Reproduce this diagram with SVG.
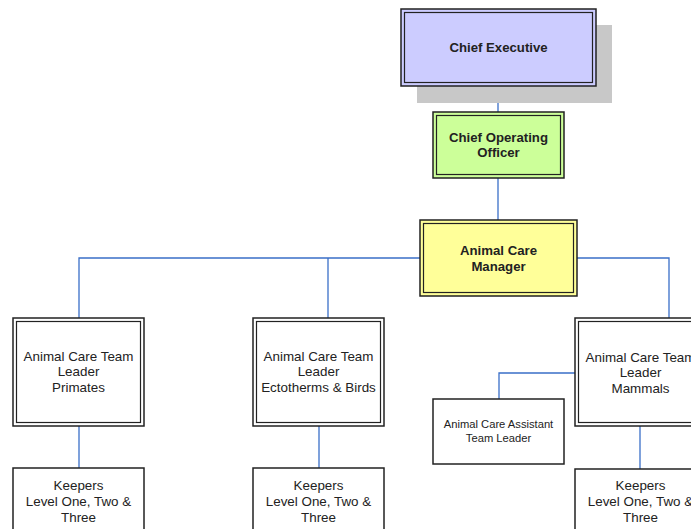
<svg xmlns="http://www.w3.org/2000/svg" width="691" height="529" viewBox="0 0 691 529">
<style>
.o{fill:none;stroke:#222;stroke-width:1.5}
.i{fill:none;stroke:#222;stroke-width:1.2}
.t{font-family:"Liberation Sans",Arial,sans-serif;font-size:13.4px;fill:#222;text-anchor:middle}
.b{font-weight:bold;font-size:13.2px}
.s{font-size:11.2px}
.c{fill:none;stroke:#3a6fc8;stroke-width:1.3}
</style>
<rect width="691" height="529" fill="#fff"/>
<g id="connectors">
<path class="c" d="M498 86V112"/>
<path class="c" d="M498 178V220"/>
<path class="c" d="M420 258H79V318"/>
<path class="c" d="M328 258V318"/>
<path class="c" d="M577 258H669V318"/>
<path class="c" d="M575 373H499V399"/>
<path class="c" d="M79 426V468"/>
<path class="c" d="M319 426V468"/>
<path class="c" d="M640 426V469"/>
</g>
<g id="chief-executive">
<rect x="417" y="25" width="195" height="78" fill="#c8c8c8"/>
<rect x="401" y="9" width="195" height="77" class="o" style="fill:#ccccff"/>
<rect x="404.5" y="12.5" width="188" height="70" class="i"/>
<text class="t b" x="498.5" y="51.5">Chief Executive</text>
</g>
<g id="chief-operating-officer">
<rect x="433" y="112" width="131" height="66" class="o" style="fill:#ccff99"/>
<rect x="436.5" y="115.5" width="124" height="59" class="i"/>
<text class="t b" x="498.5" y="141.5">Chief Operating</text>
<text class="t b" x="498.5" y="156.5">Officer</text>
</g>
<g id="animal-care-manager">
<rect x="420" y="220" width="157" height="76" class="o" style="fill:#ffff99"/>
<rect x="423.5" y="223.5" width="150" height="69" class="i"/>
<text class="t b" x="498.5" y="254.5">Animal Care</text>
<text class="t b" x="498.5" y="270.5">Manager</text>
</g>
<g id="team-leader-primates">
<rect x="13" y="318" width="131" height="108" class="o" style="fill:#fff"/>
<rect x="16.5" y="321.5" width="124" height="101" class="i"/>
<text class="t" x="78.5" y="360.5">Animal Care Team</text>
<text class="t" x="78.5" y="376">Leader</text>
<text class="t" x="78.5" y="391.5">Primates</text>
</g>
<g id="team-leader-ectotherms">
<rect x="253" y="318" width="131" height="108" class="o" style="fill:#fff"/>
<rect x="256.5" y="321.5" width="124" height="101" class="i"/>
<text class="t" x="318.5" y="360.5">Animal Care Team</text>
<text class="t" x="318.5" y="376">Leader</text>
<text class="t" x="318.5" y="391.5">Ectotherms &amp; Birds</text>
</g>
<g id="team-leader-mammals">
<rect x="575" y="318" width="131" height="108" class="o" style="fill:#fff"/>
<rect x="578.5" y="321.5" width="124" height="101" class="i"/>
<text class="t" x="640.5" y="361.5">Animal Care Team</text>
<text class="t" x="640.5" y="377">Leader</text>
<text class="t" x="640.5" y="392.5">Mammals</text>
</g>
<g id="assistant-team-leader">
<rect x="433" y="399" width="131" height="65" class="o" style="fill:#fff"/>
<text class="t s" x="498.5" y="428">Animal Care Assistant</text>
<text class="t s" x="498.5" y="442">Team Leader</text>
</g>
<g id="keepers-primates">
<rect x="13" y="468" width="131" height="70" class="o" style="fill:#fff"/>
<text class="t" x="78.5" y="489.5">Keepers</text>
<text class="t" x="78.5" y="505.5">Level One, Two &amp;</text>
<text class="t" x="78.5" y="521.5">Three</text>
</g>
<g id="keepers-ectotherms">
<rect x="253" y="468" width="131" height="70" class="o" style="fill:#fff"/>
<text class="t" x="318.5" y="489.5">Keepers</text>
<text class="t" x="318.5" y="505.5">Level One, Two &amp;</text>
<text class="t" x="318.5" y="521.5">Three</text>
</g>
<g id="keepers-mammals">
<rect x="575" y="469" width="131" height="70" class="o" style="fill:#fff"/>
<text class="t" x="640.5" y="490">Keepers</text>
<text class="t" x="640.5" y="506">Level One, Two &amp;</text>
<text class="t" x="640.5" y="522">Three</text>
</g>
</svg>
